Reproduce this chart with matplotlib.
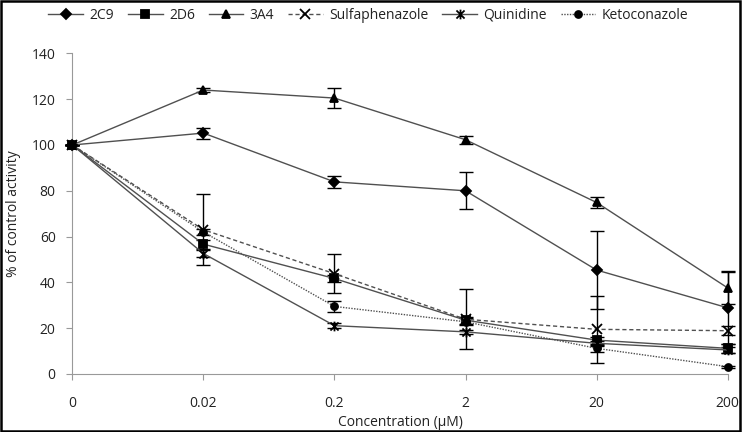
import matplotlib
matplotlib.use("Agg")
import matplotlib.pyplot as plt
import numpy as np
from matplotlib.path import Path
from matplotlib.patches import Rectangle

# concentrations (uM), shown as evenly spaced categories
conc_labels = ["0", "0.02", "0.2", "2", "20", "200"]

cyp2c9 = [100, 105.2, 83.9, 80.0, 45.4, 28.9]
cyp2c9_err = [0, 2.4, 2.7, 8.0, 17.0, 16.0]
cyp2d6 = [100, 56.7, 41.7, 23.5, 14.8, 11.2]
cyp2d6_err = [0, 2.0, 1.5, 1.5, 1.5, 2.0]
cyp3a4 = [100, 124.0, 120.5, 102.3, 74.9, 37.6]
cyp3a4_err = [0, 1.0, 4.4, 1.7, 2.4, 7.0]
sulfaphenazole = [100, 63.0, 43.8, 23.9, 19.5, 18.9]
sulfaphenazole_err = [0, 15.5, 8.5, 13.0, 14.5, 2.0]
quinidine = [100, 52.6, 21.1, 18.4, 13.4, 10.5]
quinidine_err = [0, 1.5, 1.0, 1.0, 1.0, 1.5]
ketoconazole = [100, 62.0, 29.5, 22.8, 11.2, 3.2]
ketoconazole_err = [0, 1.5, 2.5, 1.5, 1.5, 0.5]

# excel-like "star" marker: an x with a vertical bar
star = Path([(-1, -1), (1, 1), (-1, 1), (1, -1), (0, -1.2), (0, 1.2)],
            [Path.MOVETO, Path.LINETO, Path.MOVETO, Path.LINETO, Path.MOVETO, Path.LINETO])

plt.rcParams['font.family'] = ['Open Sans', 'DejaVu Sans']
fig = plt.figure(figsize=(7.44, 4.32), dpi=100)
ax = fig.add_axes([0.0972, 0.1343, 0.8808, 0.7421])

x = np.arange(len(conc_labels))
line_col = '#505050'
series = [
    ("2C9", cyp2c9, cyp2c9_err, 'D', 5.5, '-'),
    ("2D6", cyp2d6, cyp2d6_err, 's', 5.5, '-'),
    ("3A4", cyp3a4, cyp3a4_err, '^', 6, '-'),
    ("Sulfaphenazole", sulfaphenazole, sulfaphenazole_err, 'x', 7, (0, (3, 2))),
    ("Quinidine", quinidine, quinidine_err, star, 7, '-'),
    ("Ketoconazole", ketoconazole, ketoconazole_err, 'o', 5, (0, (1, 1))),
]
for name, vals, err, mk, ms, ls in series:
    eb = ax.errorbar(x, vals, yerr=err, fmt='none', ecolor='black', elinewidth=1,
                     capsize=5, capthick=1, zorder=2)
    for art in eb.lines[1] + eb.lines[2]:
        art.set_clip_on(False)
    ax.plot(x, vals, color=line_col, lw=1, ls=ls, marker=mk, ms=ms,
            mfc='black', mec='black', mew=1.3, label=name, zorder=3, clip_on=False)

ax.set_xlim(0, 5)
ax.set_ylim(0, 140)
ax.set_yticks(np.arange(0, 141, 20))
ax.set_xticks(x)
ax.set_xticklabels(conc_labels)
ax.spines['top'].set_visible(False)
ax.spines['right'].set_visible(False)
ax.spines['left'].set_color('#999999')
ax.spines['bottom'].set_color('#999999')
ax.tick_params(axis='y', direction='out', length=4, color='#999999', pad=8, labelsize=10, labelcolor='#222222')
ax.tick_params(axis='x', direction='out', length=4, color='#999999', pad=12, labelsize=10, labelcolor='#222222')
ax.set_xlabel("Concentration (µM)", fontsize=10, color='#222222', labelpad=3)
ax.set_ylabel("% of control activity", fontsize=10, color='#222222', labelpad=8)

fig.legend(loc='center', bbox_to_anchor=(0.495, 0.965), ncol=6, frameon=False,
           fontsize=10, handlelength=2.5, columnspacing=1.0, handletextpad=0.45,
           labelcolor='#222222')

fig.patches.append(Rectangle((0.001, 0.002), 0.994, 0.996, transform=fig.transFigure,
                             fill=False, edgecolor='black', lw=1.8))

fig.savefig("out.png", dpi=100)
